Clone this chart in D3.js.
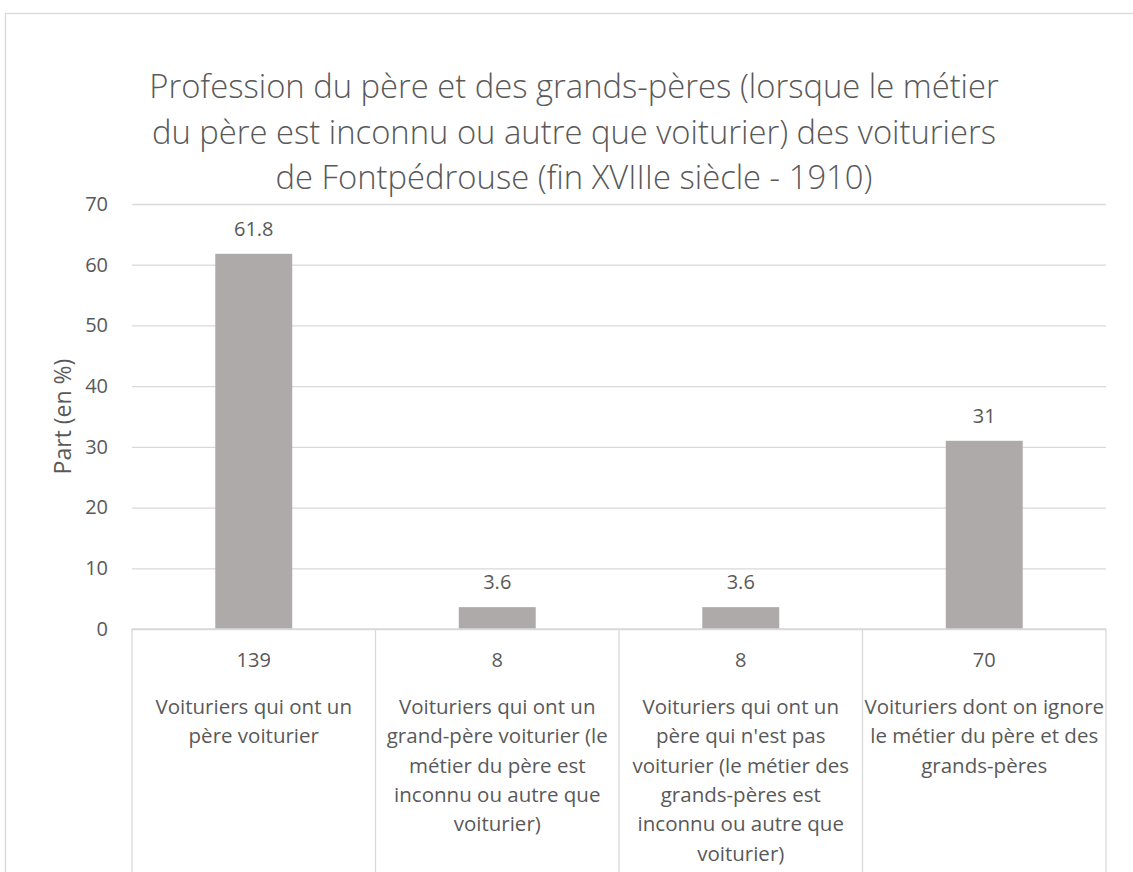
<!DOCTYPE html>
<html>
<head>
<meta charset="utf-8">
<script src="https://cdn.jsdelivr.net/npm/d3@7"></script>
<style>
  body { margin: 0; background: #fff; }
  svg text { font-family: "Open Sans", "Noto Sans", sans-serif; fill: #595959; }
</style>
</head>
<body>
<svg id="chart" width="1133" height="872"></svg>
<script>
// chart data
const titleLines = [
  "Profession du père et des grands-pères (lorsque le métier",
  "du père est inconnu ou autre que voiturier) des voituriers",
  "de Fontpédrouse (fin XVIIIe siècle - 1910)"
];
const yLabel = "Part (en %)";
const counts = ["139", "8", "8", "70"];
const categories = [
  "Voituriers qui ont un\npère voiturier",
  "Voituriers qui ont un\ngrand-père voiturier (le\nmétier du père est\ninconnu ou autre que\nvoiturier)",
  "Voituriers qui ont un\npère qui n'est pas\nvoiturier (le métier des\ngrands-pères est\ninconnu ou autre que\nvoiturier)",
  "Voituriers dont on ignore\nle métier du père et des\ngrands-pères"
];
const values = [61.8, 3.6, 3.6, 31];
const yTicks = [0, 10, 20, 30, 40, 50, 60, 70];

const svg = d3.select("#chart");
const grid = "#d9d9d9";
const fs = 20;

// outer chart border (runs off the picture on right/bottom)
svg.append("rect")
  .attr("x", 5.5).attr("y", 13.5)
  .attr("width", 1160).attr("height", 900)
  .attr("fill", "#fff")
  .attr("stroke", grid).attr("stroke-width", 1.3);

const pLeft = 132, pRight = 1106, pTop = 204, pBottom = 629;

const x = d3.scaleBand()
  .domain(d3.range(categories.length))
  .range([pLeft, pRight])
  .padding(0);

const y = d3.scaleLinear()
  .domain([0, 70])
  .range([pBottom, pTop]);

// title
const title = svg.append("text")
  .attr("text-anchor", "middle")
  .attr("font-weight", 300)
  .attr("font-size", 30);
titleLines.forEach((l, i) => {
  title.append("tspan")
    .attr("x", 574)
    .attr("y", 98 + i * 45.5)
    .text(l);
});
// squeeze font so the longest line is about as wide as the reference
let maxW = 0;
title.selectAll("tspan").each(function() { maxW = Math.max(maxW, this.getComputedTextLength()); });
title.attr("font-size", 30 * 850 / maxW);

// gridlines
svg.append("g")
  .attr("transform", `translate(${pLeft},0)`)
  .call(d3.axisLeft(y).tickValues(yTicks).tickSize(-(pRight - pLeft)).tickFormat(""))
  .call(g => g.select(".domain").remove())
  .call(g => g.selectAll("line").attr("stroke", grid).attr("stroke-width", 1.3));

// y tick labels
svg.append("g")
  .attr("transform", `translate(${pLeft},0)`)
  .call(d3.axisLeft(y).tickValues(yTicks).tickSize(0).tickPadding(24))
  .call(g => g.select(".domain").remove())
  .call(g => g.selectAll("text")
    .attr("font-size", fs)
    .attr("font-family", "'Open Sans', sans-serif")
    .attr("fill", "#595959"));

// y axis title
svg.append("text")
  .attr("transform", `translate(71,${(pTop + pBottom) / 2}) rotate(-90)`)
  .attr("text-anchor", "middle")
  .attr("font-size", 23)
  .text(yLabel);

// bars
const bw = x.bandwidth() * 0.316;
svg.append("g").selectAll("rect")
  .data(values)
  .join("rect")
  .attr("x", (d, i) => x(i) + (x.bandwidth() - bw) / 2)
  .attr("y", d => y(d))
  .attr("width", bw)
  .attr("height", d => y(0) - y(d))
  .attr("fill", "#aeaaaa");

// data labels
svg.append("g").selectAll("text")
  .data(values)
  .join("text")
  .attr("x", (d, i) => x(i) + x.bandwidth() / 2)
  .attr("y", d => y(d) - 18)
  .attr("text-anchor", "middle")
  .attr("font-size", fs)
  .text(d => d);

// table under the axis
const tbl = svg.append("g");
tbl.append("line")
  .attr("x1", pLeft).attr("x2", pRight)
  .attr("y1", pBottom).attr("y2", pBottom)
  .attr("stroke", grid).attr("stroke-width", 1.3);
tbl.selectAll("line.v")
  .data(d3.range(categories.length + 1))
  .join("line")
  .attr("class", "v")
  .attr("x1", i => i < categories.length ? x(i) : pRight)
  .attr("x2", i => i < categories.length ? x(i) : pRight)
  .attr("y1", pBottom).attr("y2", 880)
  .attr("stroke", grid).attr("stroke-width", 1.3);

tbl.selectAll("text.count")
  .data(counts)
  .join("text")
  .attr("class", "count")
  .attr("x", (d, i) => x(i) + x.bandwidth() / 2)
  .attr("y", 667)
  .attr("text-anchor", "middle")
  .attr("font-size", fs)
  .text(d => d);

categories.forEach((c, i) => {
  const t = tbl.append("text")
    .attr("text-anchor", "middle")
    .attr("font-size", 20.5);
  c.split("\n").forEach((l, j) => {
    t.append("tspan")
      .attr("x", x(i) + x.bandwidth() / 2)
      .attr("y", 714 + j * 29.3)
      .text(l);
  });
});
</script>
</body>
</html>
